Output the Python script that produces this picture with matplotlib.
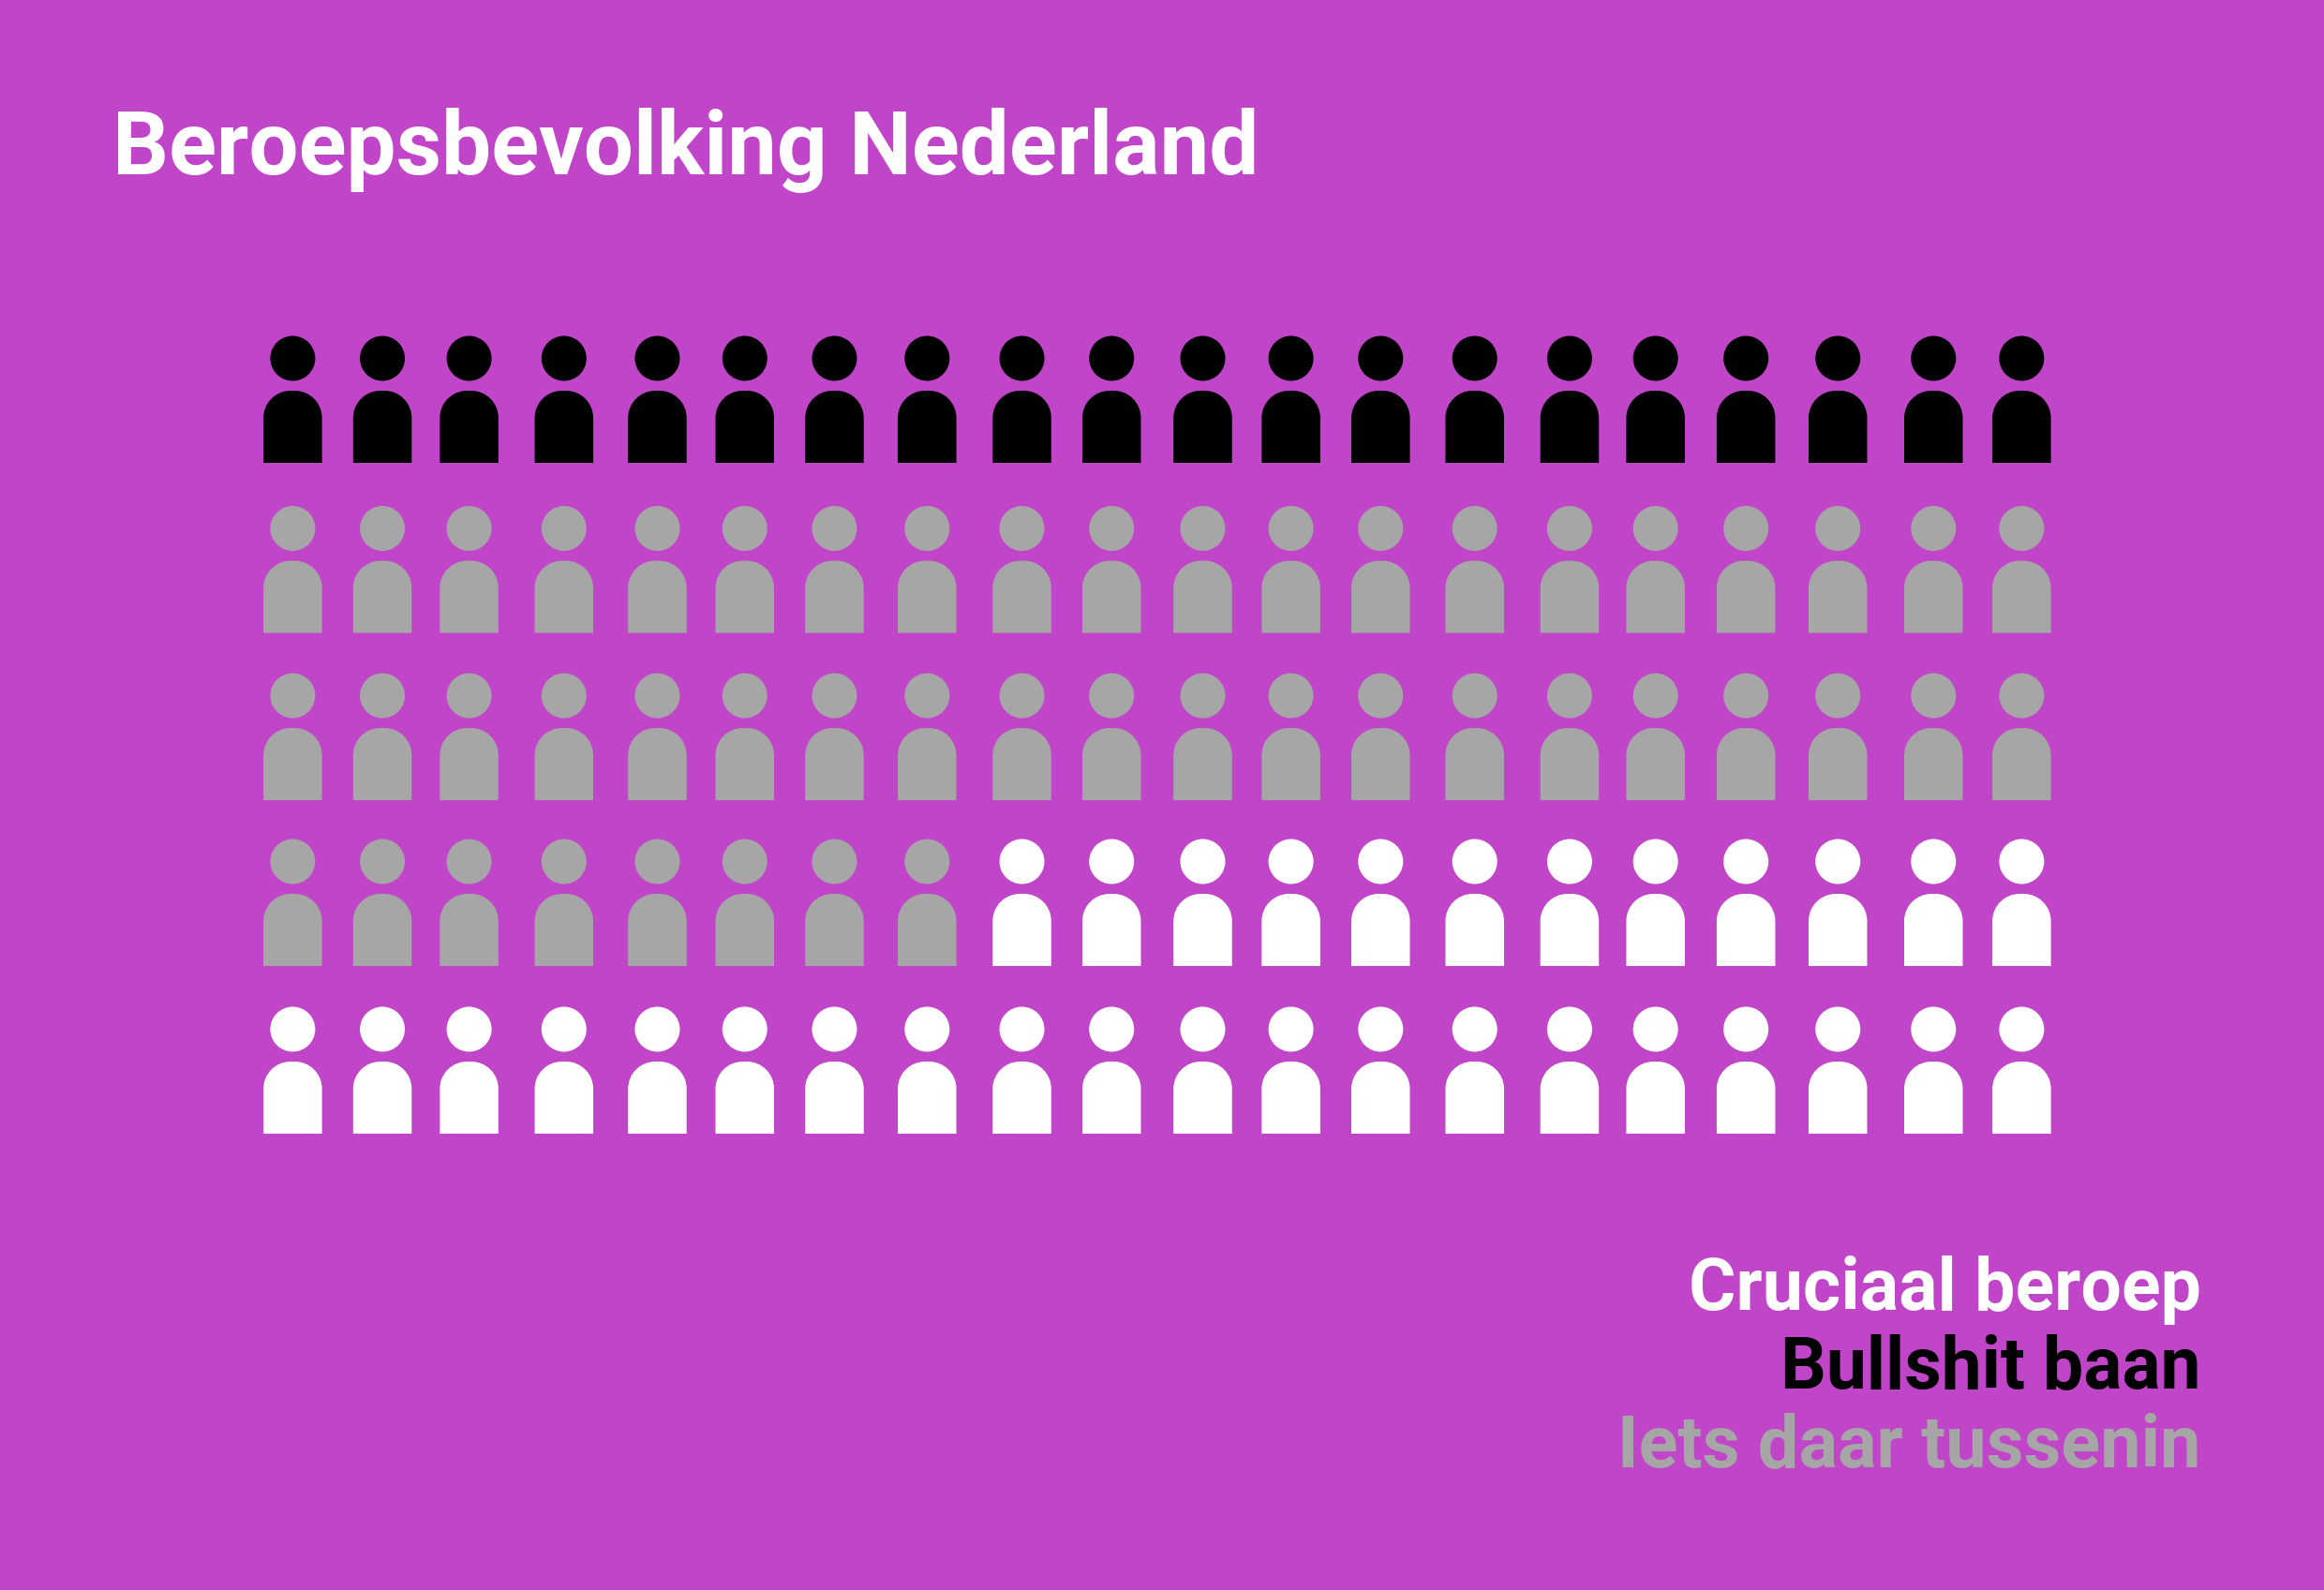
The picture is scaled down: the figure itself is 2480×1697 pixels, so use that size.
import matplotlib
matplotlib.use("Agg")
import matplotlib.pyplot as plt
from matplotlib.patches import Circle, PathPatch
from matplotlib.path import Path
from matplotlib.textpath import TextPath
from matplotlib.font_manager import FontProperties

# Data
title = "Beroepsbevolking Nederland"
categories = ["Bullshit baan", "Iets daar tussenin", "Cruciaal beroep"]
counts = [20, 48, 32]
legend_order = ["Cruciaal beroep", "Bullshit baan", "Iets daar tussenin"]

# Styles / layout (reference pixels)
W, H = 2480, 1697
BG = "#C045C8"
colors = {"Bullshit baan": "#000000", "Iets daar tussenin": "#A6A6A6", "Cruciaal beroep": "#FFFFFF"}
col_shrunk = [197.5, 258, 316.5, 380.5, 443.5, 502.5, 563, 625.5, 689.5, 750,
              811.5, 871, 931.5, 995, 1059, 1117, 1178, 1240, 1304.5, 1364]
col_x = [c * W / 1568 for c in col_shrunk]
row_bottom = [494, 675.5, 854, 1031, 1210]
BODY_W, BODY_H, CORNER, HEAD_R, HEAD_OFF = 62.5, 77, 29, 24, 111.5
K = 0.5523


def body_path(cx, bottom):
    l, r = cx - BODY_W / 2, cx + BODY_W / 2
    t = bottom - BODY_H
    c = CORNER
    verts = [(l, bottom), (l, t + c), (l, t + c - K * c), (l + c - K * c, t), (l + c, t),
             (r - c, t), (r - c + K * c, t), (r, t + c - K * c), (r, t + c), (r, bottom), (l, bottom)]
    codes = [Path.MOVETO, Path.LINETO, Path.CURVE4, Path.CURVE4, Path.CURVE4,
             Path.LINETO, Path.CURVE4, Path.CURVE4, Path.CURVE4, Path.LINETO, Path.CLOSEPOLY]
    return Path(verts, codes)


fig = plt.figure(figsize=(W / 100, H / 100), dpi=100, facecolor=BG)
ax = fig.add_axes([0, 0, 1, 1])
ax.set_xlim(0, W)
ax.set_ylim(H, 0)
ax.axis("off")

sequence = [cat for cat, n in zip(categories, counts) for _ in range(n)]
ncol = len(col_x)
for i, cat in enumerate(sequence):
    r, c = divmod(i, ncol)
    color = colors[cat]
    ax.add_patch(PathPatch(body_path(col_x[c], row_bottom[r]), facecolor=color, edgecolor="none"))
    ax.add_patch(Circle((col_x[c], row_bottom[r] - HEAD_OFF), HEAD_R, facecolor=color, edgecolor="none"))

fp = FontProperties(family="Roboto", weight="bold")


def fit_size(s, target_px):
    tp = TextPath((0, 0), s, size=100, prop=fp)
    ext = tp.get_extents()
    return 100 * target_px / ext.width * 0.72  # points at dpi 100


ax.text(120, 186, title, color="white", fontproperties=fp, fontsize=fit_size(title, 1213), ha="left", va="baseline")
legend_base = [1398, 1481, 1565]
legend_w = [541, 440, 613]
for s, y, w in zip(legend_order, legend_base, legend_w):
    ax.text(2349, y, s, color=colors[s], fontproperties=fp, fontsize=fit_size(s, w), ha="right", va="baseline")

fig.savefig("out.png", dpi=100, facecolor=BG)
